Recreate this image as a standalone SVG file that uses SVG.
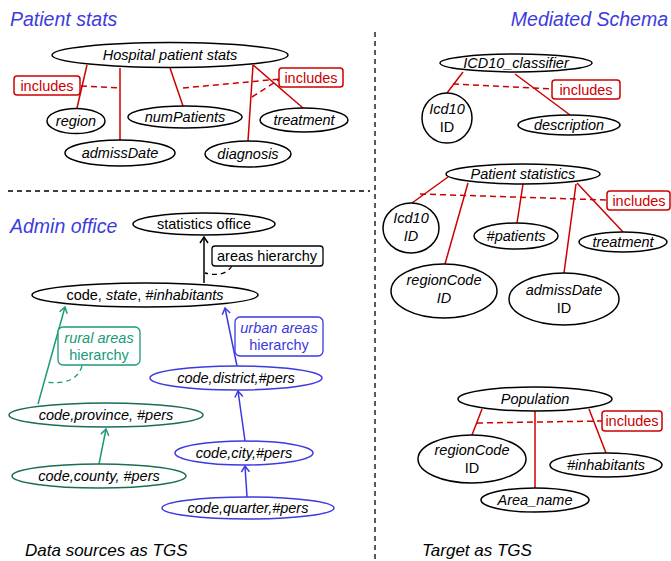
<svg xmlns="http://www.w3.org/2000/svg" width="671" height="561" viewBox="0 0 671 561">
<defs>
<marker id="ak" markerWidth="10" markerHeight="10" refX="9" refY="5" orient="auto" markerUnits="userSpaceOnUse" viewBox="0 0 10 10"><path d="M3,1 L9,5 L3,9" fill="none" stroke="#000" stroke-width="1.5"/></marker>
<marker id="ag" markerWidth="10" markerHeight="10" refX="9" refY="5" orient="auto" markerUnits="userSpaceOnUse" viewBox="0 0 10 10"><path d="M3,1 L9,5 L3,9" fill="none" stroke="#1a9a78" stroke-width="1.5"/></marker>
<marker id="ab" markerWidth="10" markerHeight="10" refX="9" refY="5" orient="auto" markerUnits="userSpaceOnUse" viewBox="0 0 10 10"><path d="M3,1 L9,5 L3,9" fill="none" stroke="#3a3ae0" stroke-width="1.5"/></marker>
</defs>
<style>
text{font-family:"Liberation Sans",Arial,sans-serif;font-size:14.5px;fill:#000}
.it{font-style:italic}
.title{font-size:19.5px;font-style:italic;fill:#3c3cdc}
.foot{font-size:17px;font-style:italic}
.n{fill:#fff;stroke:#000;stroke-width:1.5}
.ng{fill:#fff;stroke:#1b6d55;stroke-width:1.5}
.nb{fill:#fff;stroke:#3a3ae0;stroke-width:1.5}
.r{stroke:#cc0000;stroke-width:1.5;fill:none}
.rd{stroke:#cc0000;stroke-width:1.5;fill:none;stroke-dasharray:6,4}
.rbox{fill:#fff;stroke:#cc0000;stroke-width:1.5}
.rt{fill:#cc0000}
.sep{stroke:#000;stroke-width:1.3;stroke-dasharray:5,4;fill:none}
</style>
<rect width="671" height="561" fill="#fff"/>

<g id="titles">
<text class="title" x="10" y="26">Patient stats</text>
<text class="title" x="668" y="26" text-anchor="end">Mediated Schema</text>
<text class="title" x="10" y="233">Admin office</text>
<text class="foot" x="25" y="556">Data sources as TGS</text>
<text class="foot" x="422" y="556">Target as TGS</text>
</g>

<g id="separators">
<line class="sep" x1="8" y1="191" x2="370" y2="191"/>
<line class="sep" x1="375" y1="32" x2="375" y2="561"/>
</g>

<g id="connectors">
<line class="r" x1="87" y1="65" x2="77" y2="108"/>
<line class="r" x1="120" y1="68" x2="120" y2="140"/>
<line class="r" x1="170" y1="68" x2="183" y2="106"/>
<line class="r" x1="253" y1="65" x2="248" y2="141"/>
<line class="r" x1="253" y1="65" x2="303" y2="108"/>
<line class="rd" x1="81" y1="86" x2="120" y2="88"/>
<line class="rd" x1="183" y1="88" x2="280" y2="79"/>
<line class="rd" x1="252" y1="97" x2="280" y2="79"/>
<line class="r" x1="463" y1="72" x2="447" y2="93"/>
<line class="r" x1="515" y1="74" x2="570" y2="115"/>
<line class="rd" x1="453" y1="84" x2="552" y2="89"/>
<line class="r" x1="448" y1="177" x2="412" y2="203"/>
<line class="r" x1="468" y1="183" x2="445" y2="264"/>
<line class="r" x1="523" y1="184" x2="517" y2="223"/>
<line class="r" x1="576" y1="184" x2="564" y2="273"/>
<line class="r" x1="577" y1="183" x2="623" y2="232"/>
<line class="rd" x1="420" y1="194" x2="607" y2="200"/>
<line class="r" x1="482" y1="409" x2="472" y2="435"/>
<line class="r" x1="535" y1="411" x2="535" y2="488"/>
<line class="r" x1="589" y1="409" x2="606" y2="453"/>
<line class="rd" x1="477" y1="423" x2="602" y2="421"/>
<line x1="204" y1="283" x2="204" y2="237" stroke="#000" stroke-width="1.5" marker-end="url(#ak)"/>
<path d="M232 266 Q224 278 205 273" fill="none" stroke="#000" stroke-width="1.3" stroke-dasharray="5,4"/>
<line x1="38" y1="404" x2="65" y2="307" stroke="#1a9a78" stroke-width="1.5" marker-end="url(#ag)"/>
<path d="M82 366 Q76 386 45 382" fill="none" stroke="#1a9a78" stroke-width="1.3" stroke-dasharray="5,4"/>
<line x1="99" y1="464" x2="106" y2="429" stroke="#1a9a78" stroke-width="1.5" marker-end="url(#ag)"/>
<line x1="237" y1="366" x2="225" y2="308" stroke="#3a3ae0" stroke-width="1.5" marker-end="url(#ab)"/>
<line x1="245" y1="441" x2="238" y2="391" stroke="#3a3ae0" stroke-width="1.5" marker-end="url(#ab)"/>
<line x1="247" y1="497" x2="245" y2="466" stroke="#3a3ae0" stroke-width="1.5" marker-end="url(#ab)"/>
</g>

<g id="labels">
<g id="inc1"><rect class="rbox" x="14" y="76" width="66" height="19" rx="3"/><text class="rt" x="47" y="90.5" text-anchor="middle">includes</text></g>
<g id="inc2"><rect class="rbox" x="279" y="68" width="64" height="19" rx="3"/><text class="rt" x="311" y="82.5" text-anchor="middle">includes</text></g>
<g id="inc3"><rect class="rbox" x="552" y="80" width="68" height="19" rx="3"/><text class="rt" x="586" y="94.5" text-anchor="middle">includes</text></g>
<g id="inc4"><rect class="rbox" x="607" y="191" width="63" height="19" rx="3"/><text class="rt" x="639" y="205.5" text-anchor="middle">includes</text></g>
<g id="inc5"><rect class="rbox" x="602" y="411" width="60" height="20" rx="3"/><text class="rt" x="632" y="426" text-anchor="middle">includes</text></g>
<g id="areas"><rect x="212" y="246" width="111" height="20" rx="3" fill="#fff" stroke="#000" stroke-width="1.3"/><text x="267" y="261" text-anchor="middle">areas hierarchy</text></g>
<g id="rural"><rect x="58" y="327" width="82" height="38" rx="5" fill="#fff" stroke="#1a9a78" stroke-width="1.3"/><text x="99" y="343" text-anchor="middle" class="it" style="fill:#1a9a78">rural areas</text><text x="99" y="360" text-anchor="middle" style="fill:#1a9a78">hierarchy</text></g>
<g id="urban"><rect x="235" y="317" width="88" height="39" rx="5" fill="#fff" stroke="#3a3ae0" stroke-width="1.3"/><text x="279" y="333" text-anchor="middle" class="it" style="fill:#3a3ae0">urban areas</text><text x="279" y="350" text-anchor="middle" style="fill:#3a3ae0">hierarchy</text></g>
</g>

<g id="n-hospital"><ellipse class="n" cx="170" cy="55" rx="118" ry="12.5"/><text class="it" x="170" y="60" text-anchor="middle">Hospital patient stats</text></g>
<g id="n-region"><ellipse class="n" cx="76" cy="121" rx="29" ry="12.5"/><text class="it" x="76" y="126" text-anchor="middle">region</text></g>
<g id="n-numPatients"><ellipse class="n" cx="185" cy="117" rx="57" ry="11"/><text class="it" x="185" y="122" text-anchor="middle">numPatients</text></g>
<g id="n-treatment1"><ellipse class="n" cx="304" cy="120" rx="44" ry="12"/><text class="it" x="304" y="125" text-anchor="middle">treatment</text></g>
<g id="n-admissDate1"><ellipse class="n" cx="120" cy="153" rx="55" ry="13"/><text class="it" x="120" y="158" text-anchor="middle">admissDate</text></g>
<g id="n-diagnosis"><ellipse class="n" cx="248" cy="154" rx="43" ry="13"/><text class="it" x="248" y="159" text-anchor="middle">diagnosis</text></g>

<g id="n-icd10cls"><ellipse class="n" cx="516" cy="63" rx="76" ry="9"/><text class="it" x="516" y="68" text-anchor="middle">ICD10_classifier</text></g>
<g id="n-icd10a"><circle class="n" cx="447" cy="118" r="25"/><text class="it" x="447" y="114" text-anchor="middle">Icd10</text><text x="447" y="132" text-anchor="middle">ID</text></g>
<g id="n-description"><ellipse class="n" cx="569" cy="125" rx="51" ry="10"/><text class="it" x="569" y="130" text-anchor="middle">description</text></g>

<g id="n-patstat"><ellipse class="n" cx="523" cy="174" rx="77" ry="10"/><text class="it" x="523" y="179" text-anchor="middle">Patient statistics</text></g>
<g id="n-icd10b"><ellipse class="n" cx="411" cy="228" rx="28" ry="25"/><text class="it" x="411" y="223" text-anchor="middle">Icd10</text><text class="it" x="411" y="241" text-anchor="middle">ID</text></g>
<g id="n-patients"><ellipse class="n" cx="516" cy="236" rx="42" ry="13"/><text class="it" x="516" y="241" text-anchor="middle">#patients</text></g>
<g id="n-treatment2"><ellipse class="n" cx="623" cy="242" rx="44" ry="10"/><text class="it" x="623" y="247" text-anchor="middle">treatment</text></g>
<g id="n-regionCode1"><ellipse class="n" cx="444" cy="291" rx="53" ry="27"/><text class="it" x="444" y="285" text-anchor="middle">regionCode</text><text class="it" x="444" y="303" text-anchor="middle">ID</text></g>
<g id="n-admissDate2"><ellipse class="n" cx="564" cy="299" rx="55" ry="26"/><text class="it" x="564" y="295" text-anchor="middle">admissDate</text><text x="564" y="313" text-anchor="middle">ID</text></g>

<g id="n-population"><ellipse class="n" cx="535" cy="399" rx="77" ry="12"/><text class="it" x="535" y="404" text-anchor="middle">Population</text></g>
<g id="n-regionCode2"><ellipse class="n" cx="472" cy="459" rx="54" ry="24"/><text class="it" x="472" y="455" text-anchor="middle">regionCode</text><text x="472" y="473" text-anchor="middle">ID</text></g>
<g id="n-inhabitants"><ellipse class="n" cx="606" cy="465" rx="56" ry="12"/><text class="it" x="606" y="470" text-anchor="middle">#inhabitants</text></g>
<g id="n-areaname"><ellipse class="n" cx="535" cy="500" rx="54" ry="12"/><text class="it" x="535" y="505" text-anchor="middle">Area_name</text></g>

<g id="n-statoffice"><ellipse class="n" cx="204" cy="224" rx="71" ry="11"/><text x="204" y="229" text-anchor="middle">statistics office</text></g>
<g id="n-state"><ellipse class="n" cx="145" cy="295" rx="113" ry="12"/><text x="145" y="300" text-anchor="middle">code, <tspan class="it">state</tspan>, #<tspan class="it">inhabitants</tspan></text></g>
<g id="n-province"><ellipse class="ng" cx="106" cy="415" rx="97" ry="12"/><text class="it" x="106" y="420" text-anchor="middle">code,province, #pers</text></g>
<g id="n-county"><ellipse class="ng" cx="99" cy="476" rx="87" ry="12"/><text class="it" x="99" y="481" text-anchor="middle">code,county, #pers</text></g>
<g id="n-district"><ellipse class="nb" cx="236" cy="378" rx="86" ry="12"/><text class="it" x="236" y="383" text-anchor="middle">code,district,#pers</text></g>
<g id="n-city"><ellipse class="nb" cx="244" cy="453" rx="69" ry="12"/><text class="it" x="244" y="458" text-anchor="middle">code,city,#pers</text></g>
<g id="n-quarter"><ellipse class="nb" cx="248" cy="508" rx="86" ry="11"/><text class="it" x="248" y="513" text-anchor="middle">code,quarter,#pers</text></g>
</svg>
